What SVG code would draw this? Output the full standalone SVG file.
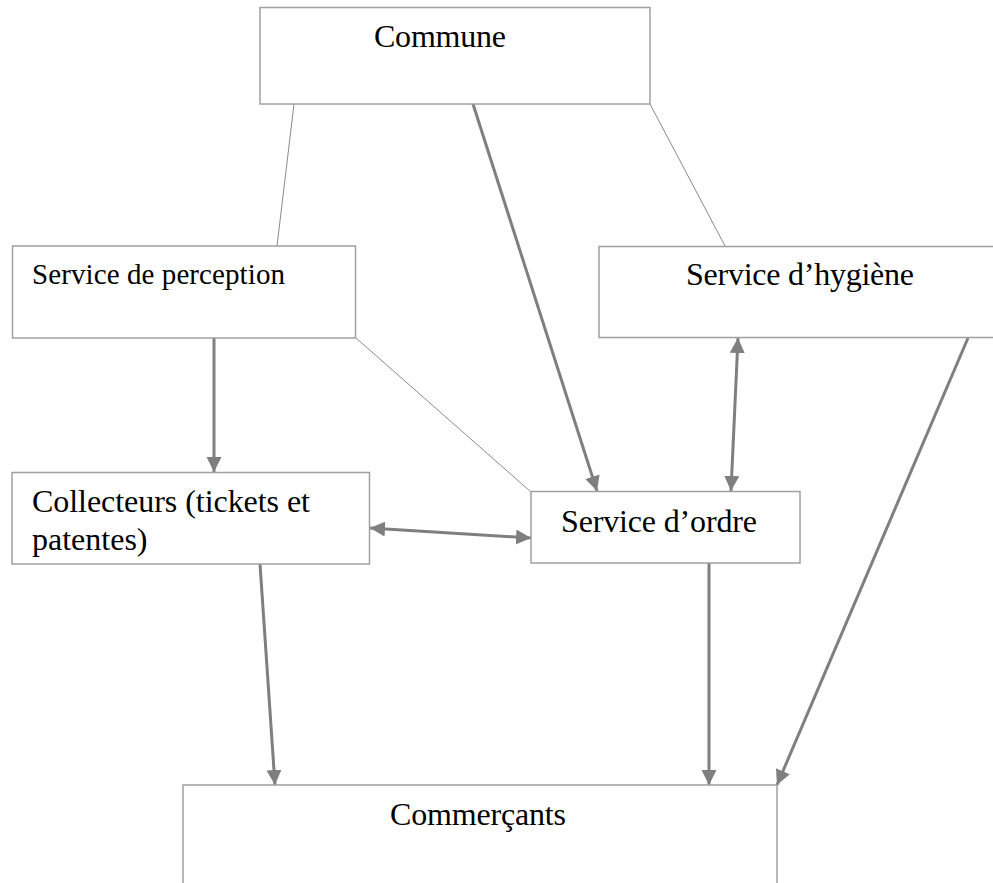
<svg xmlns="http://www.w3.org/2000/svg" width="993" height="883" viewBox="0 0 993 883">
<style>
.box{fill:#fff;stroke:#a0a0a0;stroke-width:1.5}
.t{font-family:"Liberation Serif","Times New Roman",serif;font-size:32px;fill:#000}
.thin{stroke:#8a8a8a;stroke-width:1;fill:none}
.arr{stroke:#7f7f7f;stroke-width:3;fill:none;marker-end:url(#ah)}
.dbl{stroke:#7f7f7f;stroke-width:3;fill:none;marker-end:url(#ah);marker-start:url(#ah)}
</style>
<defs>
<marker id="ah" markerUnits="userSpaceOnUse" markerWidth="16" markerHeight="16" viewBox="0 0 16 16" refX="15" refY="7.5" orient="auto-start-reverse">
<path d="M0,0 L15,7.5 L0,15 z" fill="#7f7f7f"/>
</marker>
</defs>
<rect width="993" height="883" fill="#fff"/>
<g id="connectors">
<line class="thin" x1="294" y1="104" x2="277" y2="246"/>
<line class="thin" x1="650" y1="104" x2="725" y2="246"/>
<line class="thin" x1="356" y1="338" x2="531" y2="492"/>
<line class="arr" x1="473" y1="104" x2="597" y2="491"/>
<line class="arr" x1="214" y1="338" x2="214" y2="472"/>
<line class="dbl" x1="738" y1="338" x2="731" y2="491"/>
<line class="dbl" x1="370" y1="528" x2="531" y2="538"/>
<line class="arr" x1="260" y1="564" x2="275" y2="785"/>
<line class="arr" x1="709" y1="563" x2="709" y2="785"/>
<line class="arr" x1="968" y1="338" x2="777" y2="785"/>
</g>
<g id="commune">
<rect class="box" x="260" y="7.5" width="390" height="96.5"/>
<text class="t" x="374" y="47" textLength="132">Commune</text>
</g>
<g id="perception">
<rect class="box" x="12.5" y="246" width="343" height="92"/>
<text class="t" x="32" y="284" style="font-size:29px" textLength="253">Service de perception</text>
</g>
<g id="hygiene">
<rect class="box" x="599" y="246.5" width="400" height="91"/>
<text class="t" x="686" y="285" textLength="228">Service d’hygiène</text>
</g>
<g id="collecteurs">
<rect class="box" x="12" y="472.5" width="357.5" height="91.5"/>
<text class="t" x="32" y="512" textLength="278">Collecteurs (tickets et</text>
<text class="t" x="32" y="550">patentes)</text>
</g>
<g id="ordre">
<rect class="box" x="531" y="491.5" width="269" height="71.5"/>
<text class="t" x="561" y="532" textLength="196">Service d’ordre</text>
</g>
<g id="commercants">
<rect class="box" x="183" y="785" width="594" height="110"/>
<text class="t" x="390" y="825" textLength="176">Commerçants</text>
</g>
</svg>
